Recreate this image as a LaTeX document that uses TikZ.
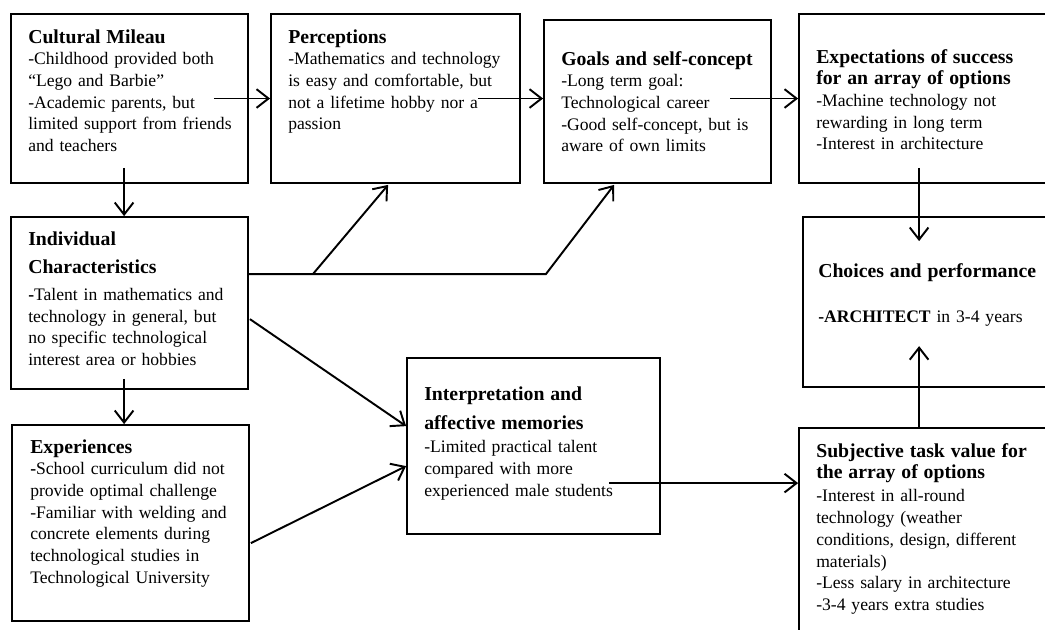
\documentclass[tikz,border=0pt]{standalone}
\usepackage{fontspec}
\setmainfont{Liberation Serif}
\usetikzlibrary{arrows.meta,calc,fit}
\newcommand{\hd}{\fontsize{14.8}{16.3}\selectfont\bfseries}
\begin{document}
\begin{tikzpicture}[x=0.75pt,y=-0.75pt,
  box/.style={draw, line width=1.35pt, inner sep=0pt, fit={#1}},
  txt/.style={inner sep=0pt, anchor=base west, align=left, text width=180pt,
    font=\fontsize{13.2}{16.3}\selectfont},
  arr/.style={line width=1.45pt, -{Straight Barb[length=9pt,width=14pt,line width=1.45pt]}},
]
\useasboundingbox (0,0) rectangle (1045,629);
\clip (0,0) rectangle (1045,629);

% boxes
\node[box={(11,14)(248,183)}] (cult) {};
\node[box={(271,14)(520,183)}] (perc) {};
\node[box={(544,20)(771,183)}] (goal) {};
\node[box={(799,14)(1060,183)}] (expc) {};
\node[box={(11,217)(248,389)}] (indv) {};
\node[box={(803,217)(1060,387)}] (choi) {};
\node[box={(12,425)(249,621)}] (expr) {};
\node[box={(407,358)(660,534)}] (intp) {};
\node[box={(799,428)(1060,660)}] (subj) {};

% texts
\node[txt] (cultT) at (28,43) {{\hd Cultural Mileau}\\ -Childhood provided both\\ “Lego and Barbie”\\ -Academic parents, but\\ limited support from friends\\ and teachers};
\node[txt] (percT) at (288,43) {{\hd Perceptions}\\ -Mathematics and technology\\ is easy and comfortable, but\\ not a lifetime hobby nor a\\ passion};
\node[txt] (goalT) at (561,65) {{\hd Goals and self-concept}\\ -Long term goal:\\ Technological career\\ -Good self-concept, but is\\ aware of own limits};
\node[txt] (expcT) at (816,63) {{\hd Expectations of success}\\ {\hd for an array of options}\\ -Machine technology not\\ rewarding in long term\\ -Interest in architecture};
\node[txt] (indvT) at (28,245) {{\hd Individual}\\[5pt] {\hd Characteristics}\\[4pt] {\bfseries -}Talent in mathematics and\\ technology in general, but\\ no specific technological\\ interest area or hobbies};
\node[txt] (choiT) at (818,277) {{\hd Choices and performance}\\[17.5pt] {\bfseries -ARCHITECT} in 3-4 years};
\node[txt] (exprT) at (30,453) {{\hd Experiences}\\ {\bfseries -}School curriculum did not\\ provide optimal challenge\\ -Familiar with welding and\\ concrete elements during\\ technological studies in\\ Technological University};
\node[txt] (intpT) at (424,400) {{\hd Interpretation and}\\[5.5pt] {\hd affective memories}\\[1.5pt] -Limited practical talent\\ compared with more\\ experienced male students};
\node[txt] (subjT) at (816,457) {{\hd Subjective task value for}\\ {\hd the array of options}\\[1pt] -Interest in all-round\\ technology (weather\\ conditions, design, different\\ materials)\\ -Less salary in architecture\\ -3-4 years extra studies};

% connectors
\coordinate (c1) at ($(cult.east)+(-35,0)$);
\draw[arr] (c1) -- (c1 -| perc.west);
\coordinate (p1) at ($(perc.east)+(-43,0)$);
\draw[arr] (p1) -- (p1 -| goal.west);
\draw[arr] ($(expc.west)+(-68,0)$) -- (expc.west);
\draw[arr] ($(cult.south west)+(114,-16)$) -- ($(indv.north west)+(114,0)$);
\coordinate (j1) at ($(indv.north east)+(64,58)$);
\coordinate (j2) at ($(indv.north east)+(297,58)$);
\draw[arr] ($(indv.north east)+(0,58)$) -- (j2) -- ($(goal.south west)+(71,1)$);
\draw[arr] (j1) -- ($(perc.south west)+(118,1)$);
\draw[arr] ($(indv.north east)+(1,103)$) -- ($(intp.north west)+(0,69)$);
\draw[arr] ($(indv.south west)+(114,-11)$) -- ($(expr.north west)+(113,0)$);
\draw[arr] ($(expr.north east)+(1,119)$) -- ($(intp.north west)+(0,109)$);
\coordinate (s1) at ($(intp.north east)+(-52,126)$);
\draw[arr] (s1) -- (s1 -| subj.west);
\draw[arr] ($(expc.south west)+(121,-16)$) -- ($(choi.north west)+(117,25)$);
\draw[arr] ($(subj.north west)+(121,0)$) -- ($(choi.north west)+(117,130)$);
\end{tikzpicture}
\end{document}
